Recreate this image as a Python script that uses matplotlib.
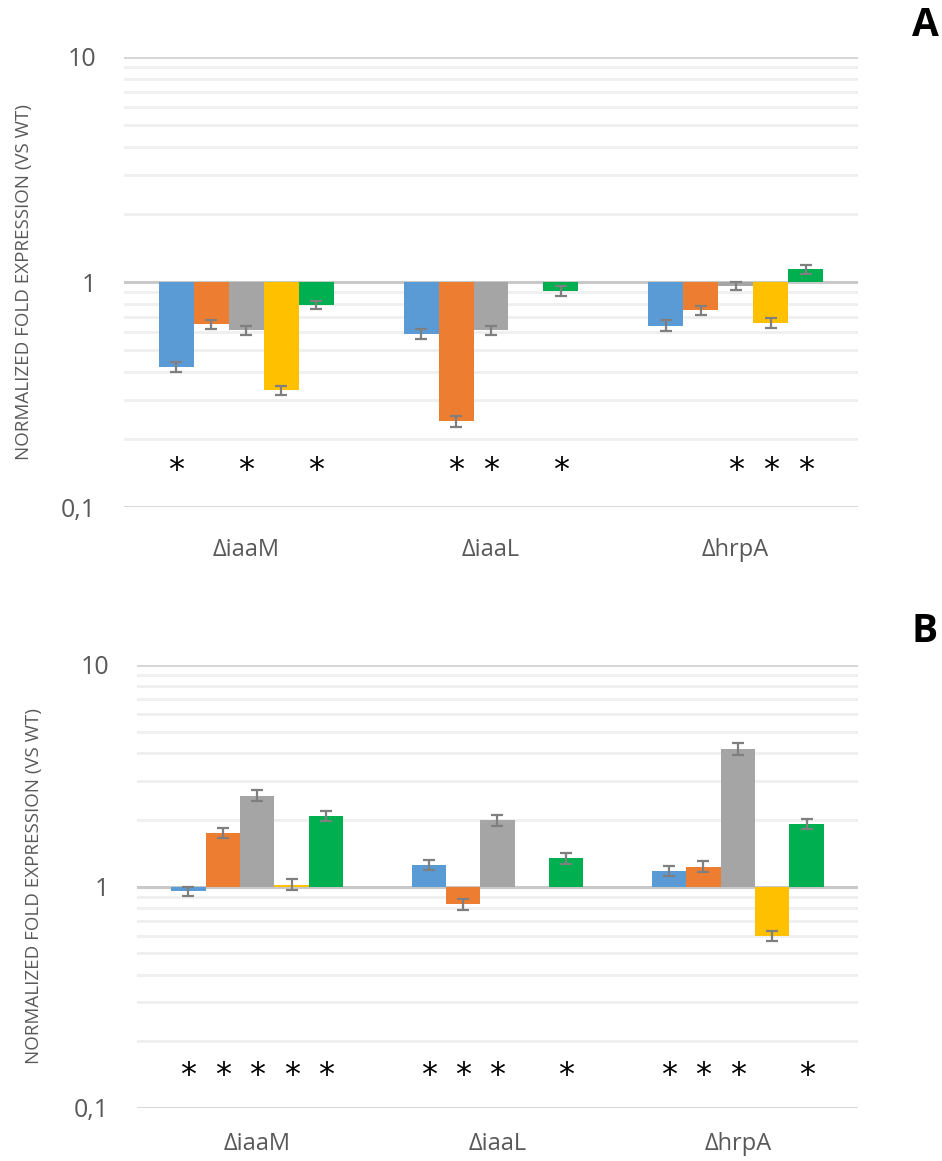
import numpy as np
import matplotlib.pyplot as plt
from matplotlib.ticker import LogLocator, FixedLocator, NullFormatter

plt.rcParams['font.family'] = ['Open Sans', 'DejaVu Sans']

genes = ['ΔiaaM', 'ΔiaaL', 'ΔhrpA']
colors = ['#5B9BD5', '#ED7D31', '#A5A5A5', '#FFC000', '#00B050']

# panel A, one row per series, one column per mutant
a_vals = [[0.42, 0.59, 0.64],
          [0.65, 0.24, 0.75],
          [0.61, 0.61, 0.96],
          [0.33, np.nan, 0.66],
          [0.79, 0.91, 1.14]]
a_err = [[0.02, 0.03, 0.035],
         [0.03, 0.014, 0.035],
         [0.03, 0.03, 0.04],
         [0.015, np.nan, 0.035],
         [0.035, 0.045, 0.055]]
a_stars = [[0, 2, 4], [1, 2, 4], [2, 3, 4]]

# panel B
b_vals = [[0.95, 1.25, 1.18],
          [1.75, 0.83, 1.23],
          [2.57, 1.99, 4.18],
          [1.02, np.nan, 0.60],
          [2.09, 1.34, 1.91]]
b_err = [[0.04, 0.065, 0.06],
         [0.095, 0.045, 0.07],
         [0.15, 0.105, 0.25],
         [0.06, np.nan, 0.03],
         [0.11, 0.075, 0.10]]
b_stars = [[0, 1, 2, 3, 4], [0, 1, 2, 4], [0, 1, 2, 4]]

ticks = [0.1, 1, 10]
tick_labels = ['0,1', '1', '10']

fig = plt.figure(figsize=(9.42, 11.61), dpi=100)


def draw_panel(rect, vals, errs, stars, star_y, letter, letter_y, ylab_x, xpad):
    ax = fig.add_axes(rect)
    x = np.arange(len(genes))
    w = 0.143
    for i in range(len(vals)):
        v = np.array(vals[i])
        pos = x + (i - 2) * w
        ax.bar(pos, v - 1, bottom=1, width=w, color=colors[i], zorder=3)
        ax.errorbar(pos, v, yerr=errs[i], fmt='none', ecolor='#7F7F7F',
                    elinewidth=1.6, capsize=4.5, capthick=1.6, zorder=4)
    for g in range(len(genes)):
        for i in stars[g]:
            ax.text(x[g] + (i - 2) * w, star_y, '*', ha='center', va='center',
                    fontsize=23, color='black', family='DejaVu Sans')
    ax.set_yscale('log')
    ax.set_ylim(0.1, 10)
    ax.set_xlim(-0.5, 2.5)
    ax.yaxis.set_major_locator(FixedLocator(ticks))
    ax.set_yticklabels(tick_labels)
    ax.yaxis.set_minor_locator(LogLocator(base=10, subs=np.arange(2, 10)))
    ax.yaxis.set_minor_formatter(NullFormatter())
    ax.grid(axis='y', which='major', color='#D4D4D4', linewidth=2, zorder=0)
    ax.grid(axis='y', which='minor', color='#EFEFEF', linewidth=2, zorder=0)
    ax.axhline(1, color='#C8C8C8', linewidth=2, zorder=1)
    ax.set_xticks(x)
    ax.set_xticklabels(genes)
    ax.tick_params(axis='both', which='both', length=0, labelsize=18,
                   labelcolor='#595959')
    ax.tick_params(axis='y', pad=20)
    ax.tick_params(axis='x', pad=xpad, labelsize=17)
    for s in ax.spines.values():
        s.set_visible(False)
    ax.set_axisbelow(True)
    fig.text(ylab_x, rect[1] + rect[3] / 2, 'NORMALIZED FOLD EXPRESSION (VS WT)',
             rotation=90, ha='center', va='center', fontsize=13.5,
             color='#595959')
    fig.text(925 / 942, letter_y, letter, ha='center', va='center',
             fontsize=28, fontweight='bold', color='black')
    return ax


draw_panel([124 / 942, 1 - 507 / 1161, 734 / 942, 450 / 1161],
           a_vals, a_err, a_stars, 0.145, 'A', 1 - 26 / 1161, 24 / 942, 22)
draw_panel([137 / 942, 1 - 1108 / 1161, 721 / 942, 443 / 1161],
           b_vals, b_err, b_stars, 0.14, 'B', 1 - 632 / 1161, 34 / 942, 17)

fig.savefig('out.png', dpi=100)
